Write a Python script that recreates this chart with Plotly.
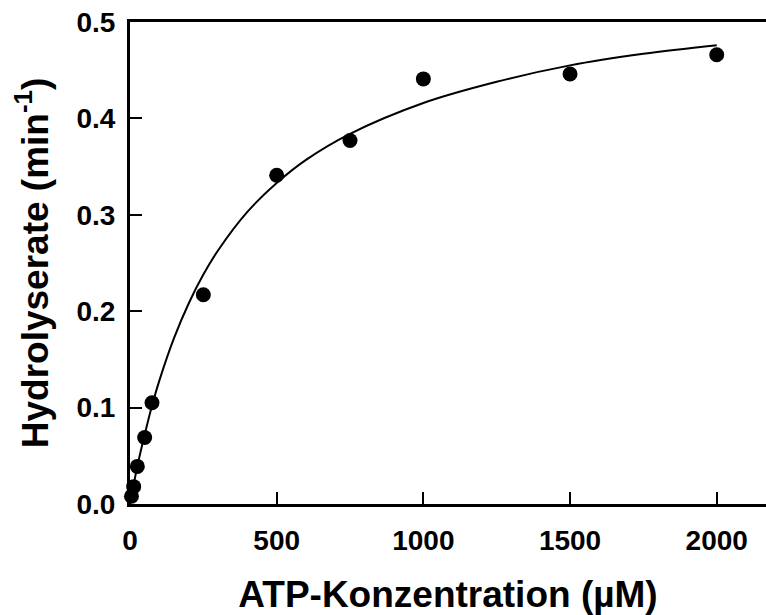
import plotly.graph_objects as go

# Measured data points
atp_conc = [5, 12.5, 25, 50, 75, 250, 500, 750, 1000, 1500, 2000]
rate = [0.008, 0.018, 0.039, 0.069, 0.105, 0.217, 0.341, 0.377, 0.441, 0.446, 0.466]

# Fitted curve
curve_x = [0, 10, 25, 50, 75, 100, 150, 200, 250, 300, 400, 500, 600, 750, 1000, 1250, 1500, 1750, 2000]
curve_y = [0.0, 0.016, 0.039, 0.072, 0.102, 0.128, 0.172, 0.208, 0.238, 0.263, 0.303, 0.333, 0.357,
           0.384, 0.416, 0.438, 0.455, 0.467, 0.476]

x_ticks = [0, 500, 1000, 1500, 2000]
y_ticks = [0.0, 0.1, 0.2, 0.3, 0.4, 0.5]
y_tick_labels = ["0.0", "0.1", "0.2", "0.3", "0.4", "0.5"]

FONT = "Liberation Sans, Arial, sans-serif"

fig = go.Figure()
fig.add_trace(go.Scatter(x=curve_x, y=curve_y, mode="lines",
                         line=dict(color="black", width=2, shape="spline"),
                         cliponaxis=False, hoverinfo="skip", showlegend=False))
fig.add_trace(go.Scatter(x=atp_conc, y=rate, mode="markers",
                         marker=dict(color="black", size=15),
                         cliponaxis=False, showlegend=False))

fig.update_layout(
    width=766, height=615,
    margin=dict(l=130, r=0, t=22, b=111),
    plot_bgcolor="white", paper_bgcolor="white",
    font=dict(family=FONT, color="black"),
    xaxis=dict(
        range=[0, 2168], tickvals=x_ticks, ticktext=[str(v) for v in x_ticks],
        showline=True, linecolor="black", linewidth=3, mirror=True,
        ticks="inside", ticklen=12, tickwidth=2, tickcolor="black",
        showgrid=False, zeroline=False, ticklabelstandoff=9,
        tickfont=dict(size=28, family=FONT, weight="bold"),
        title=dict(text="<b>ATP-Konzentration (µM)</b>", font=dict(size=37, family=FONT), standoff=28),
    ),
    yaxis=dict(
        range=[0, 0.5], tickvals=y_ticks, ticktext=y_tick_labels,
        showline=True, linecolor="black", linewidth=3,
        ticks="inside", ticklen=12, tickwidth=2, tickcolor="black",
        showgrid=False, zeroline=False, ticklabelstandoff=6,
        tickfont=dict(size=28, family=FONT, weight="bold"),
        title=dict(text="<b>Hydrolyserate (min<sup>-1</sup>)</b>", font=dict(size=37, family=FONT), standoff=17),
    ),
)

fig.write_html("out.html")
